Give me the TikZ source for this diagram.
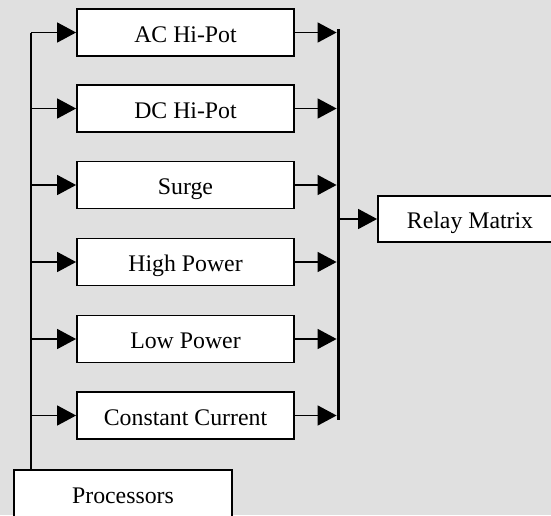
\documentclass[tikz,border=0pt]{standalone}
\usepackage{fontspec}
\setmainfont{Liberation Serif}
\usetikzlibrary{arrows.meta}
\definecolor{bggray}{RGB}{224,224,224}
\begin{document}
\begin{tikzpicture}[x=1pt,y=-1pt,
  box/.style={draw=black, fill=white, line width=1.8pt, minimum width=217pt, minimum height=47pt, inner sep=0pt, text height=19pt, text depth=0pt, font=\fontsize{23.8}{28}\selectfont},
  conn/.style={line width=1.5pt, -{Triangle[length=19pt,width=20pt]}},
  plain/.style={line width=1.5pt},
  bus/.style={line width=3.8pt}]
\useasboundingbox (0,0) rectangle (551,515);
\fill[bggray] (0,0) rectangle (551,515);
% boxes
\node[box] (ac)  at (185.5,32.5)  {AC Hi-Pot};
\node[box] (dc)  at (185.5,108.5) {DC Hi-Pot};
\node[box] (su)  at (185.5,185)   {Surge};
\node[box] (hp)  at (185.5,262)   {High Power};
\node[box] (lp)  at (185.5,339)   {Low Power};
\node[box] (cc)  at (185.5,415.5) {Constant Current};
\node[box, minimum width=218pt, minimum height=50pt, text height=17pt] (proc) at (123,495) {Processors};
\node[box, minimum width=184pt, minimum height=46pt] (relay) at (470,219) {Relay Matrix};
% left feed line
\coordinate (lt) at (31,32.5);
\draw[plain] (lt) -- (lt |- proc.north);
\foreach \n in {ac,dc,su,hp,lp,cc}{
  \draw[conn] (lt |- \n.west) -- (\n.west);
}
% right bus
\coordinate (bt) at (338.5,29);
\coordinate (bb) at (338.5,419.5);
\draw[bus] (bt) -- (bb);
\coordinate (bl) at (336.6,0);
\foreach \n in {ac,dc,su,hp,lp,cc}{
  \draw[conn] (\n.east) -- (bl |- \n.east);
}
\draw[conn] (bt |- relay.west) -- (relay.west);
\end{tikzpicture}
\end{document}
